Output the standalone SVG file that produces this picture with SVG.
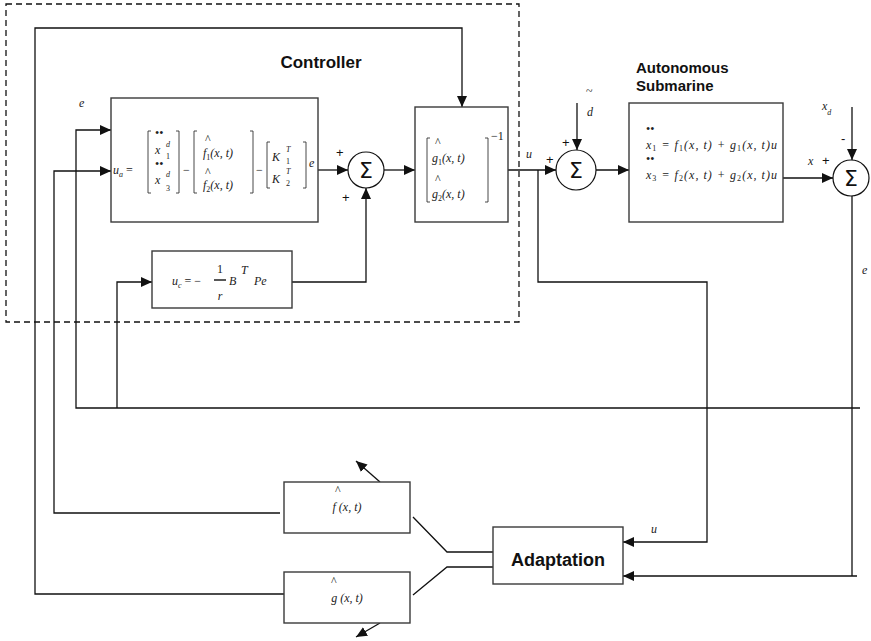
<svg xmlns="http://www.w3.org/2000/svg" width="871" height="641" viewBox="0 0 871 641">
<defs>
<style>
.box{fill:#fff;stroke:#3a3a3a;stroke-width:1.4}
.ln{fill:none;stroke:#111;stroke-width:1.3}
.ar{marker-end:url(#ah)}
.sum{fill:#fff;stroke:#111;stroke-width:1.2}
.sig{font-family:"DejaVu Sans",sans-serif;font-size:22px;text-anchor:middle;fill:#111}
.lbl{font-family:"Liberation Sans",Arial,sans-serif;font-weight:bold;fill:#111}
.m{font-family:"Liberation Serif","Times New Roman",serif;font-style:italic;font-size:12px;fill:#222}
.s{font-size:8px}
.n{font-style:normal}
.pl{font-family:"Liberation Sans",Arial,sans-serif;font-size:13px;fill:#111}
.br{fill:none;stroke:#333;stroke-width:0.9}
.dash{fill:none;stroke:#111;stroke-width:1.3;stroke-dasharray:6 4}
</style>
<marker id="ah" viewBox="0 0 11 10" refX="11" refY="5" markerWidth="11" markerHeight="10" markerUnits="userSpaceOnUse" orient="auto"><path d="M0,0 L11,5 L0,10 z" fill="#111"/></marker>
</defs>

<rect class="dash" x="6" y="4" width="513" height="318"/>
<text class="lbl" x="321" y="68" font-size="17" text-anchor="middle">Controller</text>
<text class="lbl" x="636" y="73" font-size="15">Autonomous</text>
<text class="lbl" x="636" y="91" font-size="15">Submarine</text>

<g id="connectors">
<path class="ln ar" d="M284,594 H35 V28 H462 V107"/>
<path class="ln ar" d="M280,513 H54 V171 H111"/>
<path class="ln ar" d="M860,408 H76 V130 H111"/>
<path class="ln ar" d="M117,408 V282 H152"/>
<path class="ln ar" d="M318,170 H348"/>
<path class="ln ar" d="M384,170 H415"/>
<path class="ln ar" d="M292,282 H366 V188"/>
<path class="ln ar" d="M508,170 H556"/>
<path class="ln ar" d="M538,170 V282 H707 V542 H623"/>
<path class="ln ar" d="M577,103 V150"/>
<path class="ln ar" d="M596,170 H629"/>
<path class="ln ar" d="M783,178 H833"/>
<path class="ln ar" d="M852,107 V160"/>
<path class="ln ar" d="M857,576 H852 V196 M852,576 H623"/>
<path class="ln" d="M493,552 H447 L413,517"/>
<path class="ln" d="M493,567 H447 L413,595"/>
<path class="ln ar" d="M380,482 L356,461"/>
<path class="ln ar" d="M380,623 L356,637"/>
</g>

<g id="ua">
<rect class="box" x="111" y="98" width="207" height="124"/>
<text class="m" x="113" y="174">u<tspan class="s" dy="3">a</tspan><tspan class="n" dy="-3"> =</tspan></text>
<path class="br" d="M151,131 H148 V193 H151 M176,131 H179 V193 H176"/>
<text class="m n" x="155" y="137" font-size="6">••</text>
<text class="m" x="155" y="154">x</text>
<text class="m s" x="166" y="147">d</text>
<text class="m s n" x="166" y="159">1</text>
<text class="m n" x="155" y="168" font-size="6">••</text>
<text class="m" x="155" y="184">x</text>
<text class="m s" x="166" y="177">d</text>
<text class="m s n" x="166" y="191">3</text>
<text class="m n" x="183" y="174">−</text>
<path class="br" d="M197,131 H194 V193 H197 M250,131 H253 V193 H250"/>
<text class="m n" x="205" y="143" font-size="9">^</text>
<text class="m" x="203" y="157">f<tspan class="s n" dy="3">1</tspan><tspan dy="-3">(x, t)</tspan></text>
<text class="m n" x="205" y="176" font-size="9">^</text>
<text class="m" x="203" y="189">f<tspan class="s n" dy="3">2</tspan><tspan dy="-3">(x, t)</tspan></text>
<text class="m n" x="256" y="174">−</text>
<path class="br" d="M270,142 H267 V188 H270 M303,142 H306 V188 H303"/>
<text class="m" x="272" y="161">K</text>
<text class="m s" x="286" y="152">T</text>
<text class="m s n" x="286" y="164">1</text>
<text class="m" x="272" y="183">K</text>
<text class="m s" x="286" y="174">T</text>
<text class="m s n" x="286" y="186">2</text>
<text class="m" x="309" y="167" font-size="10">e</text>
</g>

<g id="sum1">
<circle class="sum" cx="366" cy="170" r="18"/>
<text class="sig" x="366" y="178">Σ</text>
<text class="pl" x="336" y="157">+</text>
<text class="pl" x="342" y="202">+</text>
</g>

<g id="ginv">
<rect class="box" x="415" y="107" width="93" height="115"/>
<path class="br" d="M430,138 H427 V202 H430 M485,138 H488 V202 H485"/>
<text class="m n" x="435" y="146" font-size="9">^</text>
<text class="m" x="432" y="162">g<tspan class="s n" dy="3">1</tspan><tspan dy="-3">(x, t)</tspan></text>
<text class="m n" x="435" y="183" font-size="9">^</text>
<text class="m" x="432" y="198">g<tspan class="s n" dy="3">2</tspan><tspan dy="-3">(x, t)</tspan></text>
<text class="m n" x="491" y="140" font-size="11">−1</text>
</g>

<g id="uc">
<rect class="box" x="152" y="251" width="140" height="57"/>
<text class="m" x="172" y="285" font-size="14">u<tspan class="s" font-size="9" dy="3">c</tspan><tspan class="n" dy="-3"> =  −</tspan></text>
<line x1="214" y1="280" x2="226" y2="280" stroke="#111" stroke-width="1.4"/>
<text class="m n" x="220" y="273" font-size="13" text-anchor="middle">1</text>
<text class="m" x="220" y="300" font-size="13" text-anchor="middle">r</text>
<text class="m" x="229" y="285" font-size="14">B</text>
<text class="m" x="241" y="274" font-size="10">T</text>
<text class="m" x="254" y="285" font-size="14">Pe</text>
</g>

<g id="sum2">
<circle class="sum" cx="576" cy="170" r="20"/>
<text class="sig" x="576" y="178">Σ</text>
<text class="pl" x="562" y="147">+</text>
<text class="pl" x="546" y="164">+</text>
<text class="m" x="526" y="158" font-size="15">u</text>
<text class="m n" x="586" y="95" font-size="10">~</text>
<text class="m" x="587" y="116" font-size="15">d</text>
</g>

<g id="sub">
<rect class="box" x="629" y="103" width="154" height="119"/>
<text class="m n" x="646" y="133" font-size="6">••</text>
<text class="m" x="646" y="149" font-size="11" textLength="131">x<tspan class="s n" dy="2">1</tspan><tspan dy="-2">  =  f</tspan><tspan class="s n" dy="2">1</tspan><tspan dy="-2">(x, t) + g</tspan><tspan class="s n" dy="2">1</tspan><tspan dy="-2">(x, t)u</tspan></text>
<text class="m n" x="646" y="163" font-size="6">••</text>
<text class="m" x="646" y="179" font-size="11" textLength="131">x<tspan class="s n" dy="2">3</tspan><tspan dy="-2">  =  f</tspan><tspan class="s n" dy="2">2</tspan><tspan dy="-2">(x, t) + g</tspan><tspan class="s n" dy="2">2</tspan><tspan dy="-2">(x, t)u</tspan></text>
</g>

<g id="sum3">
<circle class="sum" cx="851" cy="178" r="18"/>
<text class="sig" x="851" y="186">Σ</text>
<text class="m" x="822" y="110" font-size="15">x<tspan class="s" font-size="10" dy="5">d</tspan></text>
<text class="pl" x="841" y="143">-</text>
<text class="m" x="808" y="165" font-size="15">x</text>
<text class="pl" x="822" y="165">+</text>
<text class="m" x="862" y="274" font-size="15">e</text>
</g>

<text class="m" x="79" y="107" font-size="15">e</text>

<g id="fhat">
<rect class="box" x="284" y="482" width="126" height="51"/>
<text class="m n" x="335" y="494" font-size="8">^</text>
<text class="m" x="347" y="511" text-anchor="middle">f (x, t)</text>
</g>

<g id="ghat">
<rect class="box" x="284" y="572" width="126" height="51"/>
<text class="m n" x="331" y="585" font-size="8">^</text>
<text class="m" x="347" y="602" text-anchor="middle">g (x, t)</text>
</g>

<g id="adapt">
<rect class="box" x="493" y="527" width="130" height="57"/>
<text class="lbl" x="558" y="566" font-size="18" text-anchor="middle">Adaptation</text>
<text class="m" x="651" y="533" font-size="10">u</text>
</g>
</svg>
